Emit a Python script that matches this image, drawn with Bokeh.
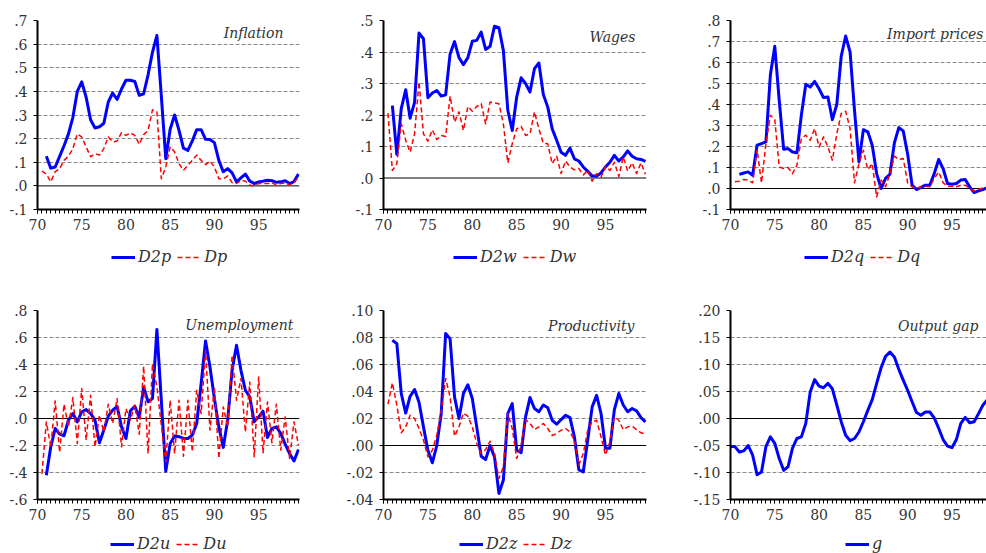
from bokeh.plotting import figure
from bokeh.models import (Range1d, FixedTicker, Legend, LegendItem, Label, Span,
                          CustomJSTickFormatter)
from bokeh.layouts import row, column
from bokeh.embed import file_html
from bokeh.resources import INLINE

# semi-annual observation dates, 1970S1 .. 1999S2 (two-digit years)
periods = [70 + 0.5 * i for i in range(60)]
year_ticks = [70, 75, 80, 85, 90, 95]

# ---- Inflation ----
d2p = [0.125, 0.075, 0.08, 0.125, 0.17, 0.22, 0.29, 0.40, 0.44, 0.375, 0.28, 0.245, 0.25, 0.265,
       0.355, 0.393, 0.366, 0.41, 0.447, 0.447, 0.442, 0.383, 0.39, 0.47, 0.566, 0.637, 0.38, 0.115,
       0.24, 0.30, 0.235, 0.16, 0.15, 0.19, 0.238, 0.238, 0.197, 0.196, 0.183, 0.108, 0.06, 0.073,
       0.055, 0.017, 0.034, 0.05, 0.02, 0.01, 0.017, 0.02, 0.024, 0.022, 0.015, 0.017, 0.022, 0.01,
       0.018, 0.05]
dp = [0.063, 0.05, 0.017, 0.06, 0.073, 0.108, 0.125, 0.158, 0.22, 0.207, 0.165, 0.123, 0.137, 0.13,
      0.158, 0.207, 0.186, 0.19, 0.225, 0.214, 0.224, 0.214, 0.176, 0.217, 0.235, 0.322, 0.313, 0.03,
      0.08, 0.165, 0.144, 0.094, 0.066, 0.087, 0.108, 0.13, 0.108, 0.09, 0.105, 0.08, 0.03, 0.03,
      0.042, 0.014, 0.01, 0.024, 0.02, 0.003, 0.0, 0.01, 0.01, 0.01, 0.013, 0.003, 0.01, 0.013,
      0.004, 0.013, 0.038]

# ---- Wages ----
d2w = [0.23, 0.075, 0.22, 0.28, 0.19, 0.24, 0.46, 0.442, 0.255, 0.27, 0.278, 0.26, 0.264, 0.394,
       0.433, 0.382, 0.36, 0.382, 0.434, 0.437, 0.463, 0.408, 0.418, 0.482, 0.477, 0.405, 0.215,
       0.151, 0.257, 0.318, 0.30, 0.273, 0.347, 0.365, 0.265, 0.225, 0.156, 0.12, 0.082, 0.072,
       0.095, 0.061, 0.054, 0.035, 0.021, 0.006, 0.006, 0.016, 0.035, 0.05, 0.072, 0.054, 0.067,
       0.086, 0.069, 0.061, 0.059, 0.053]
dw = [0.206, 0.024, 0.045, 0.172, 0.12, 0.082, 0.14, 0.305, 0.14, 0.117, 0.153, 0.122, 0.135, 0.132,
      0.26, 0.178, 0.21, 0.151, 0.227, 0.212, 0.227, 0.236, 0.172, 0.241, 0.238, 0.236, 0.172, 0.048,
      0.109, 0.156, 0.164, 0.135, 0.14, 0.21, 0.156, 0.11, 0.109, 0.045, 0.069, 0.014, 0.054, 0.035,
      0.026, 0.03, 0.01, 0.024, -0.01, 0.014, 0.003, 0.037, 0.024, 0.05, 0.005, 0.067, 0.022, 0.048,
      0.014, 0.048, 0.012]

# ---- Import prices ----
d2q = [0.067, 0.074, 0.079, 0.063, 0.206, 0.214, 0.222, 0.54, 0.677, 0.42, 0.187, 0.19, 0.174, 0.17,
       0.35, 0.496, 0.483, 0.51, 0.475, 0.433, 0.436, 0.328, 0.40, 0.63, 0.726, 0.65, 0.372, 0.127,
       0.28, 0.27, 0.206, 0.071, 0.0, 0.048, 0.068, 0.217, 0.29, 0.274, 0.163, 0.016, -0.005, 0.005,
       0.016, 0.016, 0.071, 0.138, 0.095, 0.024, 0.02, 0.024, 0.04, 0.043, 0.008, -0.019, -0.011,
       -0.005, 0.005, 0.005]
dq = [0.032, 0.035, 0.043, 0.04, 0.027, 0.185, 0.027, 0.214, 0.349, 0.328, 0.103, 0.095, 0.10, 0.071,
      0.111, 0.238, 0.254, 0.23, 0.285, 0.198, 0.246, 0.198, 0.135, 0.26, 0.357, 0.368, 0.285, 0.027,
      0.119, 0.182, 0.09, 0.119, -0.04, 0.04, 0.008, 0.071, 0.154, 0.138, 0.143, 0.027, 0.008, 0.0,
      0.008, 0.011, 0.008, 0.048, 0.079, 0.027, 0.011, 0.011, 0.008, 0.016, 0.016, 0.0, -0.011,
      -0.005, 0.003, 0.005, 0.005]

# ---- Unemployment ----
d2u = [-0.42, -0.21, -0.074, -0.116, -0.128, -0.012, 0.037, -0.025, 0.05, 0.066, 0.037, -0.012,
       -0.18, -0.086, 0.017, 0.062, 0.09, -0.062, -0.148, 0.057, 0.09, 0.007, 0.234, 0.123, 0.148,
       0.66, 0.13, -0.39, -0.185, -0.13, -0.135, -0.148, -0.148, -0.123, -0.037, 0.259, 0.574, 0.382,
       0.148, -0.062, -0.214, -0.012, 0.357, 0.542, 0.357, 0.209, 0.16, -0.025, 0.012, 0.054, -0.14,
       -0.074, -0.062, -0.11, -0.19, -0.26, -0.315, -0.23]
du = [-0.41, -0.025, -0.21, 0.13, -0.25, 0.106, -0.062, 0.155, -0.185, 0.222, -0.16, 0.172, -0.21,
      0.025, -0.1, 0.106, -0.037, 0.148, -0.21, 0.074, -0.012, 0.1, -0.116, 0.387, -0.26, 0.406,
      0.234, -0.05, -0.32, 0.135, -0.26, 0.135, -0.28, 0.135, -0.246, 0.21, 0.037, 0.505, -0.086,
      0.234, -0.296, 0.086, -0.062, 0.468, 0.135, 0.296, -0.1, 0.27, -0.283, 0.308, -0.254, 0.123,
      -0.18, 0.106, -0.234, 0.012, -0.296, -0.025, -0.197]

# ---- Productivity ----
d2z = [0.078, 0.0755, 0.0385, 0.024, 0.0365, 0.0414, 0.032, 0.0138, -0.0035, -0.0128, 0.0, 0.0237,
       0.083, 0.079, 0.036, 0.02, 0.0385, 0.045, 0.0348, 0.0138, -0.008, -0.0104, 0.0, -0.0084,
       -0.0355, -0.0256, 0.0237, 0.031, -0.0035, -0.0054, 0.0212, 0.0355, 0.0274, 0.025, 0.03, 0.028,
       0.0187, 0.0158, 0.0192, 0.0224, 0.0207, 0.0064, -0.018, -0.0195, 0.004, 0.0286, 0.0372,
       0.0237, -0.002, -0.002, 0.0266, 0.0385, 0.03, 0.025, 0.0274, 0.0256, 0.0207, 0.0175]
dz = [0.0306, 0.0464, 0.03, 0.0094, 0.0138, 0.0224, 0.02, 0.0126, 0.004, -0.0084, -0.0035, 0.0076,
      0.025, 0.0496, 0.036, 0.0069, 0.0138, 0.024, 0.0217, 0.0138, 0.0015, -0.006, -0.003, 0.0032,
      -0.006, -0.0244, -0.0158, 0.0237, 0.0126, -0.0096, 0.0, 0.0192, 0.0163, 0.0118, 0.0138,
      0.0163, 0.0126, 0.0074, 0.0089, 0.0113, 0.0126, 0.0101, 0.004, -0.0145, -0.006, 0.0113,
      0.0175, 0.0187, 0.0064, -0.007, 0.0027, 0.0212, 0.0187, 0.0118, 0.0138, 0.0143, 0.0118,
      0.0094, 0.0084]

# ---- Output gap ----
g = [-0.052, -0.052, -0.062, -0.06, -0.05, -0.068, -0.104, -0.099, -0.052, -0.034, -0.046, -0.074,
     -0.096, -0.089, -0.055, -0.037, -0.034, -0.009, 0.049, 0.072, 0.06, 0.057, 0.065, 0.055, 0.025,
     -0.006, -0.031, -0.041, -0.037, -0.025, -0.006, 0.015, 0.035, 0.065, 0.094, 0.115, 0.123, 0.114,
     0.091, 0.071, 0.052, 0.031, 0.011, 0.006, 0.012, 0.012, 0.001, -0.018, -0.039, -0.051, -0.054,
     -0.039, -0.009, 0.002, -0.008, -0.006, 0.009, 0.025, 0.035, 0.042]

ticks_infl = [-0.1, 0.0, 0.1, 0.2, 0.3, 0.4, 0.5, 0.6, 0.7]
ticks_wage = [-0.1, 0.0, 0.1, 0.2, 0.3, 0.4, 0.5]
ticks_imp = [-0.1, 0.0, 0.1, 0.2, 0.3, 0.4, 0.5, 0.6, 0.7, 0.8]
ticks_unemp = [-0.6, -0.4, -0.2, 0.0, 0.2, 0.4, 0.6, 0.8]
ticks_prod = [-0.04, -0.02, 0.0, 0.02, 0.04, 0.06, 0.08, 0.10]
ticks_gap = [-0.15, -0.10, -0.05, 0.0, 0.05, 0.10, 0.15, 0.20]

BLUE = "#0000FF"
RED = "#FF0000"
FONT = "DejaVu Serif"
TXT = "#333333"
NAN = float("nan")

FMT_CODE = """
let s = tick.toFixed(d);
if (s.startsWith('-0.')) { s = '-' + s.slice(2); }
else if (s.startsWith('0.')) { s = s.slice(1); }
if (/^-\\.0+$/.test(s)) { s = s.slice(1); }
return s;
"""


def panel(width, plot_h, leg_h, borders, x_end, y_ticks, decimals, series, title, title_xy,
          legend_xy):
    left, right, top, bottom = borders
    p = figure(width=width, height=plot_h, output_backend="svg", toolbar_location=None,
               x_range=Range1d(70, x_end), y_range=Range1d(y_ticks[0], y_ticks[-1]),
               min_border_left=left, min_border_right=right, min_border_top=top,
               min_border_bottom=bottom, outline_line_color=None,
               background_fill_color="white", border_fill_color="white")
    p.xgrid.visible = False
    p.ygrid.ticker = FixedTicker(ticks=[t for t in y_ticks[1:-1] if abs(t) > 1e-12])
    p.ygrid.grid_line_color = "#8a8a8a"
    p.ygrid.grid_line_dash = "4 2"
    p.ygrid.grid_line_width = 1
    p.add_layout(Span(location=0, dimension="width", line_color="black", line_width=1,
                      level="underlay"))

    xa = p.xaxis[0]
    xa.ticker = FixedTicker(ticks=year_ticks, minor_ticks=periods)
    xa.major_tick_out = 4
    xa.major_tick_in = 0
    xa.minor_tick_out = 4
    xa.minor_tick_in = 0
    xa.major_label_standoff = 5
    ya = p.yaxis[0]
    ya.ticker = FixedTicker(ticks=y_ticks, minor_ticks=[])
    ya.formatter = CustomJSTickFormatter(args=dict(d=decimals), code=FMT_CODE)
    ya.major_tick_out = 4
    ya.major_tick_in = 0
    ya.major_label_standoff = 6
    for ax in (xa, ya):
        ax.axis_line_color = "black"
        ax.axis_line_width = 2
        ax.major_tick_line_color = "black"
        ax.minor_tick_line_color = "black"
        ax.major_label_text_font = FONT
        ax.major_label_text_font_size = "14px"
        ax.major_label_text_color = TXT

    # legend strip: a bare figure under the panel holding the legend
    lf = figure(width=width, height=leg_h, output_backend="svg", toolbar_location=None,
                x_range=Range1d(0, 1), y_range=Range1d(0, 1), x_axis_location=None,
                y_axis_location=None, min_border=0, outline_line_color=None,
                background_fill_color="white", border_fill_color="white")
    lf.grid.visible = False

    items = []
    for name, vals, color, dash, lw in series:
        xs = periods[len(periods) - len(vals):]
        p.line(xs, vals, line_color=color, line_width=lw, line_dash=dash, line_join="round")
        proxy = lf.line([NAN], [NAN], line_color=color, line_width=lw, line_dash=dash)
        items.append(LegendItem(label=name, renderers=[proxy]))

    legend = Legend(items=items, location=legend_xy, orientation="horizontal",
                    border_line_color=None, background_fill_alpha=0, padding=0, margin=0,
                    spacing=6, label_standoff=3, glyph_width=24, glyph_height=18,
                    label_text_font=FONT, label_text_font_style="italic",
                    label_text_font_size="16px", label_text_color=TXT)
    lf.add_layout(legend)

    p.add_layout(Label(x=title_xy[0], y=title_xy[1], x_units="screen", y_units="screen",
                       text=title, text_align="right", text_baseline="alphabetic",
                       text_font=FONT, text_font_style="italic", text_font_size="14px",
                       text_color=TXT))
    return column(p, lf, spacing=0)


def pair(n2, v2, n1, v1):
    return [(n2, v2, BLUE, "solid", 3), (n1, v1, RED, "5 3", 1.5)]


TOP = (240, 40)
BOT = (250, 23)
p1 = panel(330, *TOP, (37, 31, 20, 31), 99.62, ticks_infl, 1, pair("D2p", d2p, "Dp", dp),
           "Inflation", (246, 177), (74, 14))
p2 = panel(330, *TOP, (53, 14, 20, 31), 99.62, ticks_wage, 1, pair("D2w", d2w, "Dw", dw),
           "Wages", (252, 173), (70, 14))
p3 = panel(326, *TOP, (70, 0, 20, 31), 98.9, ticks_imp, 1, pair("D2q", d2q, "Dq", dq),
           "Import prices", (253, 176), (74, 14))
p4 = panel(330, *BOT, (37, 31, 30, 31), 99.62, ticks_unemp, 1, pair("D2u", d2u, "Du", du),
           "Unemployment", (256, 175), (73, 0))
p5 = panel(330, *BOT, (53, 14, 30, 31), 99.62, ticks_prod, 2, pair("D2z", d2z, "Dz", dz),
           "Productivity", (251, 174), (76, 0))
p6 = panel(326, *BOT, (70, 0, 30, 31), 98.9, ticks_gap, 2, [("g", g, BLUE, "solid", 3)],
           "Output gap", (248, 174), (115, 0))

layout = column(row(p1, p2, p3, spacing=0), row(p4, p5, p6, spacing=0), spacing=0)

with open("out.html", "w") as f:
    f.write(file_html(layout, INLINE))
